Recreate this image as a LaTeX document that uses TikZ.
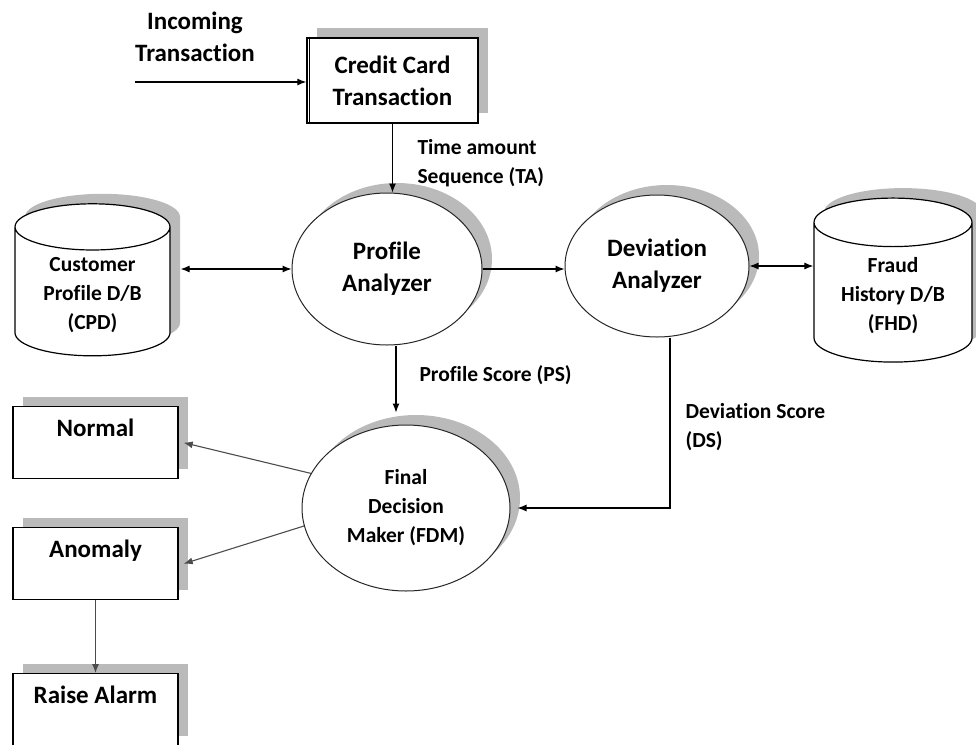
\documentclass[tikz,border=0pt]{standalone}
\usepackage{fontspec}
\setmainfont{Carlito}[Ligatures={NoCommon,NoContextual}]
\usetikzlibrary{positioning, arrows.meta, calc, shapes.geometric, shadows}

\newcommand{\bigfont}{\fontsize{25}{32}\selectfont\bfseries}
\newcommand{\smallfont}{\fontsize{21.5}{29}\selectfont\bfseries}

\begin{document}
\begin{tikzpicture}[
    x=1pt, y=-1pt,
    castshadow/.style={drop shadow={shadow xshift=10pt, shadow yshift=10pt, fill=black!27, opacity=1}},
    boxnode/.style={rectangle, draw=black, line width=1.4pt, fill=white, castshadow},
    outbox/.style={boxnode, minimum width=165pt, inner xsep=4pt, inner ysep=4pt, text height=26pt, text depth=38pt, font=\bigfont, anchor=north},
    procnode/.style={ellipse, draw=black!85, line width=1pt, fill=white, castshadow, align=center, inner sep=0pt, font=\bigfont},
    dbnode/.style={cylinder, shape border rotate=90, aspect=0.44, draw=black, line width=1.2pt, fill=white, castshadow, align=center, font=\smallfont},
    flow/.style={-{Latex[length=9pt,width=7pt]}, line width=1.1pt},
    biflow/.style={{Latex[length=9pt,width=7pt]}-{Latex[length=9pt,width=7pt]}, line width=1.1pt},
    grayflow/.style={flow, draw=black!70},
    flowtext/.style={font=\smallfont, align=left, anchor=west},
]
\useasboundingbox (0,0) rectangle (976,744);
\clip (0,0) rectangle (976,744);

% input
\node[font=\bigfont, align=center](intxt) at (195,37){Incoming\\Transaction};
\node[boxnode, minimum width=171pt, minimum height=85pt, font=\bigfont, align=center](cct) at (392.5,80.5){Credit Card\\Transaction};
\draw[line width=1.2pt] ([xshift=3.5pt]cct.north west) -- ([xshift=3.5pt]cct.south west);
\coordinate (inc) at (135,82);
\draw[flow] (inc) -- (cct.west |- inc);

% analyzers and data stores
\node[procnode, minimum width=190pt, minimum height=152pt](pa) at (387,269){Profile\\Analyzer};
\node[procnode, minimum width=184pt, minimum height=142pt](da) at (657,266){Deviation\\Analyzer};
\node[procnode, minimum width=208pt, minimum height=166pt, font=\smallfont](fdm) at (406,508){Final\\Decision\\Maker (FDM)};
\node[dbnode, minimum width=155pt, minimum height=152pt](cpd) at (92.5,295){Customer\\Profile D/B\\(CPD)};
\node[dbnode, minimum width=158pt, minimum height=164pt](fhd) at (893,296){Fraud\\History D/B\\(FHD)};

% outcomes
\node[outbox](nrm) at (95.5,406){Normal};
\node[outbox](anm) at (95.5,527){Anomaly};
\node[outbox](rsa) at (95.5,673){Raise Alarm};

% connectors
\draw[flow] (cct.south) -- (cct.south |- pa.north);
\node[flowtext](tatxt) at (414,163){Time amount\\Sequence (TA)};
\draw[biflow] ([xshift=10pt]cpd.east |- pa.west) -- (pa.west);
\draw[flow] (pa.east) -- (da.west |- pa.east);
\draw[biflow] (da.east) -- (fhd.west |- da.east);
\draw[flow, shorten >=12pt] ([xshift=9pt]pa.south) -- ([xshift=9pt]pa.south |- fdm.north);
\node[flowtext](pstxt) at (416,375){Profile Score (PS)};
\draw[flow, shorten >=7pt] ([xshift=13pt]da.south) |- (fdm.east);
\node[flowtext](dstxt) at (682,427){Deviation Score\\(DS)};
\draw[grayflow] (fdm.160) -- ([xshift=5pt]nrm.east);
\draw[grayflow] (fdm.190) -- ([xshift=5pt]anm.east);
\draw[grayflow] (anm.south) -- (rsa.north);
\end{tikzpicture}
\end{document}
